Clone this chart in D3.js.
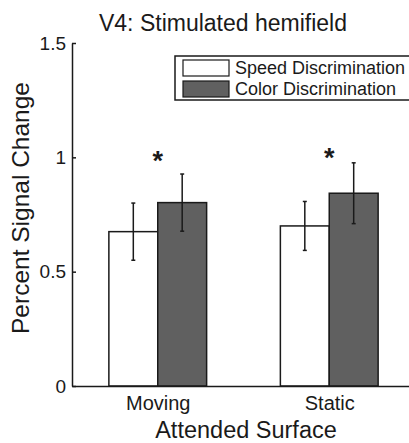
<!DOCTYPE html>
<html>
<head>
<meta charset="utf-8">
<script src="https://cdn.jsdelivr.net/npm/d3@7"></script>
<style>
  html, body { margin: 0; padding: 0; background: #fff; }
  svg { display: block; font-family: "Liberation Sans", Arial, sans-serif; }
</style>
</head>
<body>
<svg id="chart" width="409" height="443"></svg>
<script>
// data
const categories = ["Moving", "Static"];
const seriesNames = ["Speed Discrimination", "Color Discrimination"];
const speedValues = [0.675, 0.700];
const speedErr = [0.125, 0.107];
const colorValues = [0.802, 0.843];
const colorErr = [0.125, 0.133];
const starLevel = [1.02, 1.03];
const yTicks = [0, 0.5, 1, 1.5];

const width = 409, height = 443;
const textColor = "#1a1a1a";
const fills = ["#ffffff", "#606060"];

const svg = d3.select("#chart");

// scales
const x = d3.scaleLinear().domain([0.5, 2.5]).range([72, 415]);
const y = d3.scaleLinear().domain([0, 1.5]).range([386, 43]);
const barW = 0.285; // in category units

const series = [
  { name: seriesNames[0], values: speedValues, err: speedErr, fill: fills[0] },
  { name: seriesNames[1], values: colorValues, err: colorErr, fill: fills[1] }
];

// bars
const g = svg.append("g");
series.forEach((s, si) => {
  const bars = s.values.map((v, i) => ({ v, e: s.err[i], i, si }));
  g.selectAll(null)
    .data(bars)
    .join("rect")
    .attr("x", d => x(d.i + 1 + (d.si - 1) * barW))
    .attr("width", x(1 + barW) - x(1))
    .attr("y", d => y(d.v))
    .attr("height", d => y(0) - y(d.v))
    .attr("fill", s.fill)
    .attr("stroke", textColor)
    .attr("stroke-width", 1.5);
});

// error bars
series.forEach((s, si) => {
  const bars = s.values.map((v, i) => ({ v, e: s.err[i], cx: x(i + 1 + (si - 0.5) * barW) }));
  const eg = g.selectAll(null).data(bars).join("g")
    .attr("stroke", textColor).attr("stroke-width", 1.5);
  eg.append("line")
    .attr("x1", d => d.cx).attr("x2", d => d.cx)
    .attr("y1", d => y(d.v - d.e)).attr("y2", d => y(d.v + d.e));
  eg.append("line")
    .attr("x1", d => d.cx - 2).attr("x2", d => d.cx + 2)
    .attr("y1", d => y(d.v + d.e)).attr("y2", d => y(d.v + d.e));
  eg.append("line")
    .attr("x1", d => d.cx - 2).attr("x2", d => d.cx + 2)
    .attr("y1", d => y(d.v - d.e)).attr("y2", d => y(d.v - d.e));
});

// significance stars
g.selectAll(null)
  .data(starLevel)
  .join("text")
  .attr("x", (d, i) => x(i + 1))
  .attr("y", d => y(d) + 17)
  .attr("text-anchor", "middle")
  .attr("font-size", 27)
  .attr("font-weight", "bold")
  .attr("fill", textColor)
  .text("*");

// y axis
const yAxis = svg.append("g")
  .attr("transform", `translate(${x(0.5)},0)`)
  .call(d3.axisLeft(y).tickValues(yTicks).tickFormat(d => String(d))
    .tickSizeInner(-4).tickSizeOuter(0).tickPadding(6));
yAxis.selectAll("path, line").attr("stroke", textColor).attr("stroke-width", 1.5);
yAxis.selectAll("text").attr("font-size", 19).attr("fill", textColor)
  .attr("font-family", "Liberation Sans, Arial, sans-serif");

// x axis
const xAxis = svg.append("g")
  .attr("transform", `translate(0,${y(0)})`)
  .call(d3.axisBottom(x).tickValues([1, 2]).tickFormat(d => categories[d - 1])
    .tickSize(0).tickPadding(10));
xAxis.selectAll("path").attr("stroke", textColor).attr("stroke-width", 1.5);
xAxis.selectAll("text").attr("font-size", 20).attr("fill", textColor)
  .attr("font-family", "Liberation Sans, Arial, sans-serif");

// titles
svg.append("text")
  .attr("x", 223).attr("y", 31)
  .attr("text-anchor", "middle")
  .attr("font-size", 23)
  .attr("fill", textColor)
  .text("V4: Stimulated hemifield");

svg.append("text")
  .attr("x", 246).attr("y", 438)
  .attr("text-anchor", "middle")
  .attr("font-size", 23.5)
  .attr("fill", textColor)
  .text("Attended Surface");

svg.append("text")
  .attr("transform", "translate(29,208) rotate(-90)")
  .attr("text-anchor", "middle")
  .attr("font-size", 24.5)
  .attr("fill", textColor)
  .text("Percent Signal Change");

// legend
const legend = svg.append("g").attr("transform", "translate(175,56)");
legend.append("rect")
  .attr("width", 240).attr("height", 44)
  .attr("fill", "#fff").attr("stroke", textColor).attr("stroke-width", 1.5);
const items = legend.selectAll(null).data(series).join("g")
  .attr("transform", (d, i) => `translate(8,${4 + i * 21})`);
items.append("rect")
  .attr("width", 46).attr("height", 16)
  .attr("fill", d => d.fill).attr("stroke", textColor).attr("stroke-width", 1.2);
items.append("text")
  .attr("x", 52).attr("y", 14)
  .attr("font-size", 18)
  .attr("fill", textColor)
  .text(d => d.name);
</script>
</body>
</html>
